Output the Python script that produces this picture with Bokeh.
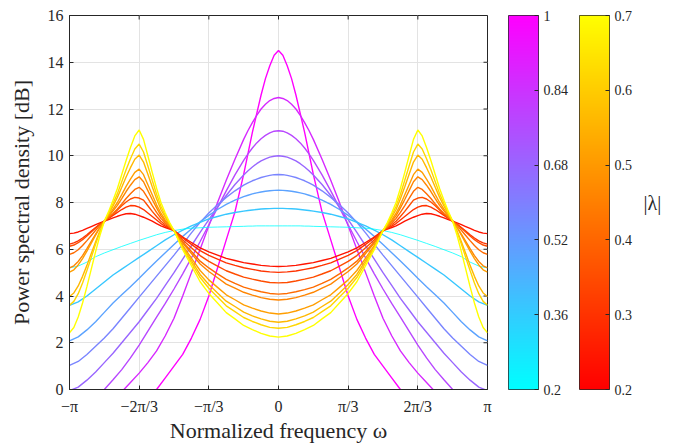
import numpy as np
from bokeh.plotting import figure
from bokeh.models import FixedTicker, LinearAxis, LinearColorMapper, Range1d
from bokeh.layouts import row
from bokeh.embed import file_html
from bokeh.resources import INLINE
from bokeh.core.properties import value

FONT = "Liberation Serif"
INK = "#262626"

# sample frequencies (units of pi), 0..pi; spectra are even in omega
omega_cool = [j / 48 for j in range(0, 9)] + [j / 24 for j in range(5, 25)]
omega_autumn = [j / 24 for j in range(0, 13)] + [j / 48 for j in range(25, 49)]

# real-eigenvalue family (cool colormap), colour position t in [0, 1]
cool_t = [1.0, 0.84, 0.72, 0.6, 0.48, 0.36, 0.22, 0.0]
cool_psd_1 = [14.5, 14.3, 13.85, 13.3, 12.6, 11.8, 11.0, 10.1, 9.2, 7.6, 6.4, 5.2, 4.0, 3.0, 2.2, 1.5, 1.0, 0.5, 0.0, -0.4, -0.8, -1.1, -1.4, -1.6, -1.8, -1.9, -2.0, -2.05, -2.1]
cool_psd_2 = [12.49, 12.45, 12.36, 12.2, 12.0, 11.73, 11.42, 11.08, 10.7, 9.85, 8.95, 8.0, 7.0, 6.0, 5.0, 4.0, 3.05, 2.3, 1.65, 1.15, 0.7, 0.3, -0.1, -0.45, -0.75, -1.0, -1.2, -1.3, -1.35]
cool_psd_3 = [11.07, 11.05, 10.98, 10.87, 10.73, 10.55, 10.33, 10.08, 9.8, 9.18, 8.5, 7.78, 7.05, 6.33, 5.63, 4.95, 4.3, 3.68, 3.1, 2.5, 1.9, 1.35, 0.85, 0.42, 0.0, -0.3, -0.5, -0.6, -0.65]
cool_psd_4 = [10.0, 9.98, 9.94, 9.87, 9.78, 9.66, 9.52, 9.36, 9.18, 8.77, 8.3, 7.8, 7.27, 6.72, 6.15, 5.58, 5.0, 4.45, 3.9, 3.4, 2.9, 2.45, 2.0, 1.55, 1.15, 0.75, 0.4, 0.1, -0.05]
cool_psd_5 = [9.2, 9.19, 9.16, 9.12, 9.07, 9.0, 8.93, 8.84, 8.74, 8.5, 8.22, 7.9, 7.55, 7.15, 6.7, 6.22, 5.75, 5.3, 4.85, 4.4, 3.95, 3.5, 3.05, 2.6, 2.2, 1.85, 1.5, 1.2, 1.03]
cool_psd_6 = [8.53, 8.52, 8.5, 8.48, 8.45, 8.41, 8.37, 8.31, 8.25, 8.1, 7.92, 7.7, 7.45, 7.17, 6.87, 6.55, 6.2, 5.85, 5.5, 5.13, 4.76, 4.4, 4.05, 3.7, 3.3, 2.9, 2.55, 2.25, 2.08]
cool_psd_7 = [7.75, 7.75, 7.74, 7.73, 7.72, 7.7, 7.68, 7.66, 7.63, 7.57, 7.5, 7.4, 7.3, 7.15, 7.0, 6.82, 6.62, 6.4, 6.15, 5.9, 5.65, 5.4, 5.15, 4.9, 4.6, 4.3, 4.0, 3.75, 3.6]
cool_psd_8 = [7.0, 7.0, 7.0, 7.0, 7.0, 7.0, 6.99, 6.99, 6.98, 6.97, 6.96, 6.95, 6.94, 6.92, 6.9, 6.86, 6.8, 6.72, 6.62, 6.5, 6.38, 6.25, 6.12, 5.98, 5.84, 5.68, 5.45, 5.28, 5.2]
cool_width = [1.4, 1.4, 1.4, 1.4, 1.4, 1.4, 1.4, 0.8]

# complex-eigenvalue family (autumn colormap), colour position t in [0, 1]
autumn_t = [0.08, 0.2, 0.3, 0.42, 0.52, 0.62, 0.72, 0.84, 1.0]
autumn_psd_1 = [5.26, 5.28, 5.31, 5.37, 5.43, 5.52, 5.61, 5.75, 5.89, 6.06, 6.29, 6.52, 6.8,
                6.86, 6.93, 7.0, 7.1, 7.2, 7.29, 7.37, 7.44, 7.5, 7.53, 7.52, 7.47, 7.41, 7.34, 7.27, 7.2,
                7.13, 7.05, 6.97, 6.89, 6.81, 6.74, 6.69, 6.67]
autumn_psd_2 = [5.01, 5.03, 5.07, 5.14, 5.21, 5.31, 5.42, 5.58, 5.74, 5.94, 6.21, 6.48, 6.8,
                6.89, 6.99, 7.1, 7.25, 7.4, 7.55, 7.7, 7.8, 7.86, 7.87, 7.8, 7.7, 7.58, 7.45, 7.32, 7.2,
                7.08, 6.93, 6.78, 6.62, 6.48, 6.36, 6.27, 6.22]
autumn_psd_3 = [4.56, 4.58, 4.64, 4.72, 4.81, 4.94, 5.08, 5.28, 5.48, 5.73, 6.06, 6.4, 6.8,
                6.91, 7.05, 7.2, 7.4, 7.62, 7.86, 8.1, 8.19, 8.22, 8.15, 8.02, 7.86, 7.68, 7.5, 7.35, 7.2,
                7.07, 6.91, 6.74, 6.57, 6.41, 6.28, 6.18, 6.13]
autumn_psd_4 = [4.08, 4.11, 4.18, 4.27, 4.38, 4.54, 4.71, 4.95, 5.2, 5.49, 5.9, 6.31, 6.8,
                6.95, 7.12, 7.32, 7.58, 7.87, 8.18, 8.48, 8.65, 8.56, 8.37, 8.17, 7.94, 7.72, 7.53, 7.36, 7.2,
                7.02, 6.81, 6.59, 6.37, 6.16, 5.98, 5.85, 5.78]
autumn_psd_5 = [3.83, 3.86, 3.93, 4.04, 4.16, 4.34, 4.51, 4.78, 5.05, 5.37, 5.82, 6.27, 6.8,
                6.98, 7.2, 7.44, 7.77, 8.13, 8.51, 8.89, 9.1, 8.98, 8.74, 8.47, 8.17, 7.88, 7.64, 7.41, 7.2,
                6.95, 6.65, 6.34, 6.03, 5.73, 5.48, 5.29, 5.2]
autumn_psd_6 = [3.23, 3.27, 3.36, 3.48, 3.62, 3.84, 4.05, 4.37, 4.69, 5.09, 5.62, 6.16, 6.8,
                7.01, 7.26, 7.54, 7.9, 8.33, 8.76, 9.19, 9.43, 9.29, 9.0, 8.69, 8.34, 8.0, 7.72, 7.44, 7.2,
                6.93, 6.6, 6.26, 5.92, 5.6, 5.33, 5.12, 5.02]
autumn_psd_7 = [2.88, 2.92, 3.02, 3.15, 3.31, 3.55, 3.78, 4.13, 4.49, 4.92, 5.51, 6.09, 6.8,
                7.06, 7.37, 7.7, 8.16, 8.67, 9.21, 9.73, 10.03, 9.85, 9.49, 9.09, 8.65, 8.22, 7.85, 7.51, 7.2,
                6.79, 6.32, 5.82, 5.31, 4.84, 4.43, 4.13, 3.98]
autumn_psd_8 = [2.62, 2.66, 2.77, 2.91, 3.08, 3.33, 3.58, 3.96, 4.33, 4.79, 5.42, 6.05, 6.8,
                7.1, 7.45, 7.84, 8.35, 8.95, 9.56, 10.16, 10.5, 10.29, 9.87, 9.4, 8.89, 8.38, 7.96, 7.56, 7.2,
                6.75, 6.22, 5.65, 5.09, 4.56, 4.1, 3.77, 3.6]
autumn_psd_9 = [2.24, 2.29, 2.4, 2.56, 2.74, 3.02, 3.29, 3.7, 4.11, 4.61, 5.3, 5.98, 6.8,
                7.14, 7.55, 8.0, 8.61, 9.29, 10.0, 10.7, 11.1, 10.85, 10.35, 9.8, 9.2, 8.6, 8.1, 7.62, 7.2,
                6.6, 5.9, 5.15, 4.4, 3.7, 3.1, 2.65, 2.43]

x_ticks = [-3, -2, -1, 0, 1, 2, 3]          # in units of pi/3
x_tick_labels = ["\u2212\u03c0", "\u22122\u03c0/3", "\u2212\u03c0/3", "0", "\u03c0/3", "2\u03c0/3", "\u03c0"]
y_ticks = [0, 2, 4, 6, 8, 10, 12, 14, 16]
cool_ticks = [0.2, 0.36, 0.52, 0.68, 0.84, 1.0]
cool_tick_labels = ["0.2", "0.36", "0.52", "0.68", "0.84", "1"]
autumn_ticks = [0.2, 0.3, 0.4, 0.5, 0.6, 0.7]
autumn_tick_labels = ["0.2", "0.3", "0.4", "0.5", "0.6", "0.7"]


def hexcol(r, g, b):
    return "#%02x%02x%02x" % (int(round(r * 255)), int(round(g * 255)), int(round(b * 255)))


def cool(t):
    return hexcol(t, 1 - t, 1)


def autumn(t):
    return hexcol(1, t, 0)


def full_curve(omega, half):
    xs = [-3 * w for w in omega[::-1]] + [3 * w for w in omega[1:]]
    ys = list(half[::-1]) + list(half[1:])
    return xs, ys


TOP, FH, FW, BOT = 15, 374, 418, 52
X0, X1, Y0, Y1 = -3, 3, 0, 16

p = figure(frame_width=FW, frame_height=FH, min_border_left=69, min_border_right=13,
           min_border_top=TOP, min_border_bottom=BOT,
           x_range=Range1d(X0, X1), y_range=Range1d(Y0, Y1),
           output_backend="svg", toolbar_location=None)
p.background_fill_color = "white"
p.border_fill_color = "white"
p.outline_line_color = INK
p.outline_line_width = 1

p.xgrid.ticker = FixedTicker(ticks=x_ticks)
p.ygrid.ticker = FixedTicker(ticks=y_ticks)
p.grid.grid_line_color = "#e3e3e3"
p.grid.grid_line_width = 1

for ax in (p.xaxis[0], p.yaxis[0]):
    ax.axis_line_color = INK
    ax.major_tick_line_color = INK
    ax.major_tick_in = 4
    ax.major_tick_out = 0
    ax.minor_tick_line_color = None
    ax.major_label_text_font = FONT
    ax.major_label_text_font_size = "16px"
    ax.major_label_text_color = INK
    ax.axis_label_text_font = FONT
    ax.axis_label_text_font_size = "22px"
    ax.axis_label_text_font_style = "normal"
    ax.axis_label_text_color = INK

p.xaxis.ticker = FixedTicker(ticks=x_ticks)
p.xaxis.major_label_overrides = {t: l for t, l in zip(x_ticks, x_tick_labels)}
p.xaxis.axis_label = "Normalized frequency \u03c9"
p.xaxis.major_label_standoff = 8
p.xaxis.axis_label_standoff = 0
p.yaxis.ticker = FixedTicker(ticks=y_ticks)
p.yaxis.axis_label = "Power spectral density [dB]"
p.yaxis.major_label_standoff = 6
p.yaxis.axis_label_standoff = 11

# inward tick marks on the top and right edges of the box
tick_dy = 4 * (Y1 - Y0) / FH
tick_dx = 4 * (X1 - X0) / FW
p.segment(x0=x_ticks, y0=[Y1] * len(x_ticks), x1=x_ticks, y1=[Y1 - tick_dy] * len(x_ticks),
          line_color=INK, line_width=1)
p.segment(x0=[X1] * len(y_ticks), y0=y_ticks, x1=[X1 - tick_dx] * len(y_ticks), y1=y_ticks,
          line_color=INK, line_width=1)

cool_series = [cool_psd_1, cool_psd_2, cool_psd_3, cool_psd_4, cool_psd_5, cool_psd_6, cool_psd_7, cool_psd_8]
for half, t, w in zip(cool_series, cool_t, cool_width):
    xs, ys = full_curve(omega_cool, half)
    p.line(xs, ys, line_color=cool(t), line_width=w)

autumn_series = [autumn_psd_1, autumn_psd_2, autumn_psd_3, autumn_psd_4, autumn_psd_5,
                 autumn_psd_6, autumn_psd_7, autumn_psd_8, autumn_psd_9]
for half, t in zip(autumn_series, autumn_t):
    xs, ys = full_curve(omega_autumn, half)
    p.line(xs, ys, line_color=autumn(t), line_width=1.4)


def make_cbar(cmap, low, high, ticks, labels, right_border):
    f = figure(frame_width=30, frame_height=FH, min_border_left=8, min_border_right=right_border,
               min_border_top=TOP, min_border_bottom=BOT,
               x_range=Range1d(0, 1), y_range=Range1d(low, high),
               x_axis_location=None, y_axis_location=None,
               output_backend="svg", toolbar_location=None)
    f.grid.visible = False
    f.outline_line_color = INK
    f.outline_line_width = 1
    f.border_fill_color = "white"
    palette = [cmap(i / 255) for i in range(256)]
    mapper = LinearColorMapper(palette=palette, low=low, high=high)
    grad = np.linspace(low, high, 256).reshape(256, 1)
    f.image(image=[grad], x=0, y=low, dw=1, dh=high - low, color_mapper=mapper)
    ax = LinearAxis(ticker=FixedTicker(ticks=ticks),
                    major_label_overrides={t: l for t, l in zip(ticks, labels)},
                    major_tick_in=4, major_tick_out=0, minor_tick_line_color=None,
                    axis_line_color=None, major_tick_line_color=INK,
                    major_label_text_font=FONT, major_label_text_font_size="14px",
                    major_label_text_color=INK, major_label_standoff=5)
    f.add_layout(ax, "right")
    return f


cb1 = make_cbar(cool, 0.2, 1.0, cool_ticks, cool_tick_labels, 32)
cb2 = make_cbar(autumn, 0.2, 0.7, autumn_ticks, autumn_tick_labels, 32)

lab = figure(frame_width=24, frame_height=FH, min_border_left=0, min_border_right=0,
             min_border_top=TOP, min_border_bottom=BOT,
             x_range=Range1d(0, 1), y_range=Range1d(0, 1),
             x_axis_location=None, y_axis_location=None,
             output_backend="svg", toolbar_location=None)
lab.grid.visible = False
lab.outline_line_color = None
lab.text(x=[0.45], y=[0.5], text=["|\u03bb|"], text_font=value(FONT), text_font_size="20px",
         text_align="center", text_baseline="middle", text_color=INK)

layout = row(p, cb1, cb2, lab)
open("out.html", "w").write(file_html(layout, INLINE))
